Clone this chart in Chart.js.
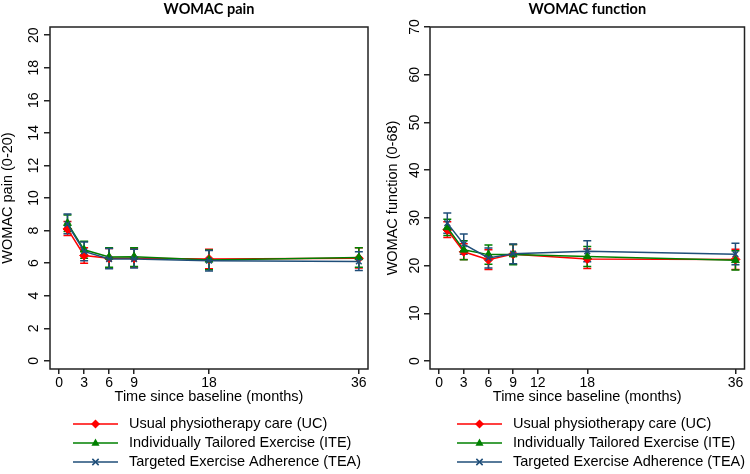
<!DOCTYPE html>
<html>
<head>
<meta charset="utf-8">
<script src="https://cdn.jsdelivr.net/npm/chart.js@4.4.1/dist/chart.umd.min.js"></script>
<style>
body{margin:0;background:#fff}
canvas{position:absolute;top:0}
</style>
</head>
<body>
<canvas id="painCanv" width="375" height="474" style="left:0"></canvas>
<canvas id="funcCanv" width="375" height="474" style="left:375px"></canvas>
<script>
// time points (months since baseline)
let months=[1,3,6,9,18,36]
let seriesNames=['Usual physiotherapy care (UC)','Individually Tailored Exercise (ITE)','Targeted Exercise Adherence (TEA)']

// WOMAC pain, mean and 95% CI
let painUC=[8.1,6.47,6.3,6.3,6.25,6.3]
let painUClo=[7.7,6.0,5.7,5.75,5.65,5.7]
let painUChi=[8.55,6.95,6.9,6.9,6.85,6.95]
let painITE=[8.45,6.82,6.38,6.4,6.2,6.35]
let painITElo=[7.95,6.3,5.75,5.8,5.6,5.75]
let painITEhi=[8.95,7.35,6.95,6.95,6.8,6.95]
let painTEA=[8.4,6.72,6.25,6.25,6.15,6.1]
let painTEAlo=[7.8,6.15,5.65,5.7,5.52,5.55]
let painTEAhi=[9.02,7.3,6.9,6.85,6.78,6.7]

// WOMAC function, mean and 95% CI
let funcUC=[27.5,22.9,21.25,22.4,21.4,21.3]
let funcUClo=[25.9,21.3,19.2,20.3,19.4,19.2]
let funcUChi=[29.2,24.6,23.3,24.4,23.5,23.4]
let funcITE=[28.0,23.3,22.3,22.3,21.9,21.1]
let funcITElo=[26.3,21.2,20.3,20.2,19.8,19.1]
let funcITEhi=[29.7,25.2,24.3,24.4,24.0,23.1]
let funcTEA=[28.9,24.5,21.6,22.5,23.0,22.4]
let funcTEAlo=[26.8,22.4,19.5,20.4,20.8,20.2]
let funcTEAhi=[31.0,26.6,23.7,24.5,25.2,24.7]

let xTicksPain=[0,3,6,9,18,36]
let xTicksFunc=[0,3,6,9,12,18,36]
let yTicksPain=[0,2,4,6,8,10,12,14,16,18,20]
let yTicksFunc=[0,10,20,30,40,50,60,70]

let colors=['#ff0000','#008000','#1f4e79']
let shapes=['rectRot','triangle','crossRot']
let txtFont='14.5px "Liberation Sans", Arial, sans-serif'
let tickFont='14px "Liberation Sans", Arial, sans-serif'

function pts(vals){
    return months.map(function(m,i){return {x:m,y:vals[i]}})
}

function drawMarker(ctx,shape,x,y,r,color){
    ctx.fillStyle=color
    ctx.strokeStyle=color
    ctx.beginPath()
    if(shape=='rectRot'){
        ctx.moveTo(x,y-r);ctx.lineTo(x+r,y);ctx.lineTo(x,y+r);ctx.lineTo(x-r,y);ctx.closePath();ctx.fill()
    }else if(shape=='triangle'){
        ctx.moveTo(x,y-r);ctx.lineTo(x+r*0.9,y+r*0.6);ctx.lineTo(x-r*0.9,y+r*0.6);ctx.closePath();ctx.fill()
    }else{
        ctx.lineWidth=1.5
        ctx.moveTo(x-r*0.7,y-r*0.7);ctx.lineTo(x+r*0.7,y+r*0.7)
        ctx.moveTo(x+r*0.7,y-r*0.7);ctx.lineTo(x-r*0.7,y+r*0.7)
        ctx.stroke()
    }
}

let decor={
    id:'decor',
    beforeDatasetsDraw:function(chart,args,o){
        // error bars from CI arrays
        let ctx=chart.ctx
        let xs=chart.scales.x, ys=chart.scales.y
        ctx.save()
        chart.data.datasets.forEach(function(ds,di){
            ctx.strokeStyle=ds.borderColor
            ctx.lineWidth=1.5
            ds.lo.forEach(function(lo,i){
                let px=xs.getPixelForValue(months[i])
                let p1=ys.getPixelForValue(lo), p2=ys.getPixelForValue(ds.hi[i])
                ctx.beginPath()
                ctx.moveTo(px,p1);ctx.lineTo(px,p2)
                ctx.moveTo(px-4,p1);ctx.lineTo(px+4,p1)
                ctx.moveTo(px-4,p2);ctx.lineTo(px+4,p2)
                ctx.stroke()
            })
        })
        ctx.restore()
    },
    afterDraw:function(chart,args,o){
        let ctx=chart.ctx
        let a=chart.chartArea
        let cx=(a.left+a.right)/2
        ctx.save()
        // frame
        ctx.strokeStyle='#222'
        ctx.lineWidth=1.5
        ctx.strokeRect(a.left,a.top,a.right-a.left,a.bottom-a.top)
        // title
        ctx.fillStyle='#000'
        ctx.font='bold 14.5px Lato, "Open Sans", sans-serif'
        ctx.textAlign='center'
        ctx.textBaseline='middle'
        ctx.fillText(o.title,cx,9)
        // x title
        ctx.font=txtFont
        ctx.fillText('Time since baseline (months)',cx,397)
        // y tick labels, rotated
        ctx.font=tickFont
        let ys=chart.scales.y
        ys.ticks.forEach(function(t){
            let py=ys.getPixelForValue(t.value)
            ctx.save()
            ctx.translate(a.left-o.yLabelOff,py)
            ctx.rotate(-Math.PI/2)
            ctx.fillText(String(t.value),0,0)
            ctx.restore()
        })
        // y title
        ctx.font=txtFont
        ctx.save()
        ctx.translate(o.yTitleX,(a.top+a.bottom)/2)
        ctx.rotate(-Math.PI/2)
        ctx.fillText(o.yTitle,0,0)
        ctx.restore()
        // legend
        ctx.textAlign='left'
        chart.data.datasets.forEach(function(ds,i){
            let ly=424+i*19
            let lx=a.left+o.legendX
            ctx.strokeStyle=ds.borderColor
            ctx.lineWidth=1.5
            ctx.beginPath();ctx.moveTo(lx,ly);ctx.lineTo(lx+45,ly);ctx.stroke()
            drawMarker(ctx,shapes[i],lx+22.5,ly,4.5,ds.borderColor)
            ctx.fillStyle='#000'
            ctx.fillText(ds.label,lx+56,ly)
        })
        ctx.restore()
    }
}

function makeChart(canvId,series,xTicks,yTicks,ymin,ymax,opts){
    let datasets=[]
    for(let i in series){
        datasets.push({
            label:seriesNames[i],
            data:pts(series[i][0]),
            lo:series[i][1],
            hi:series[i][2],
            borderColor:colors[i],
            backgroundColor:colors[i],
            borderWidth:1.5,
            pointStyle:shapes[i],
            pointRadius:i==2?4:4.5,
            pointBorderWidth:i==2?1.5:1,
            order:3-i
        })
    }
    let ctx=document.getElementById(canvId).getContext('2d')
    return new Chart(ctx,{
        type:'line',
        data:{datasets:datasets},
        plugins:[decor],
        options:{
            responsive:false,
            animation:false,
            layout:{padding:{top:27,right:opts.padRight,bottom:69,left:0}},
            plugins:{
                legend:{display:false},
                tooltip:{enabled:false},
                decor:opts
            },
            scales:{
                x:{
                    type:'linear',min:-1.1,max:37.1,
                    afterBuildTicks:function(s){s.ticks=xTicks.map(function(v){return {value:v}})},
                    afterFit:function(s){s.height=36},
                    border:{display:false},
                    grid:{drawOnChartArea:false,drawTicks:true,tickLength:5,color:'#222',lineWidth:1.5},
                    ticks:{autoSkip:false,maxRotation:0,padding:1,color:'#000',font:{family:'"Liberation Sans", Arial',size:14}}
                },
                y:{
                    type:'linear',min:ymin,max:ymax,
                    afterBuildTicks:function(s){s.ticks=yTicks.map(function(v){return {value:v}})},
                    afterFit:function(s){s.width=opts.yWidth},
                    border:{display:false},
                    grid:{drawOnChartArea:false,drawTicks:true,tickLength:6,color:'#222',lineWidth:1.5},
                    ticks:{display:false}
                }
            }
        }
    })
}

makeChart('painCanv',
    [[painUC,painUClo,painUChi],[painITE,painITElo,painITEhi],[painTEA,painTEAlo,painTEAhi]],
    xTicksPain,yTicksPain,-0.5,20.5,
    {title:'WOMAC pain',yTitle:'WOMAC pain (0-20)',yTitleX:8,yLabelOff:16,legendX:23,yWidth:50,padRight:7})

makeChart('funcCanv',
    [[funcUC,funcUClo,funcUChi],[funcITE,funcITElo,funcITEhi],[funcTEA,funcTEAlo,funcTEAhi]],
    xTicksFunc,yTicksFunc,-1.67,70,
    {title:'WOMAC function',yTitle:'WOMAC function (0-68)',yTitleX:18,yLabelOff:14.5,legendX:27,yWidth:55,padRight:2})
</script>
</body>
</html>
